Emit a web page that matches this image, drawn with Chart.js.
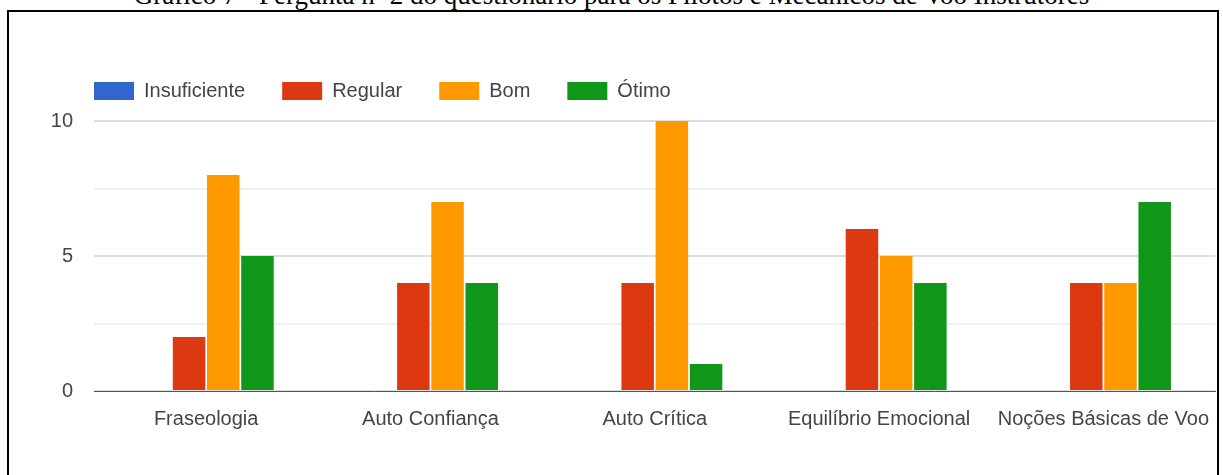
<!DOCTYPE html>
<html>
<head>
<meta charset="utf-8">
<script src="https://cdn.jsdelivr.net/npm/chart.js@4.4.0/dist/chart.umd.min.js"></script>
<style>
  body { margin: 0; background: #fff; overflow: hidden; }
  #title {
    position: absolute; left: 0; top: -20px; width: 1223px; white-space: nowrap;
    text-align: center; font: 27px "Liberation Serif", "Times New Roman", serif; color: #000;
  }
  #box {
    position: absolute; left: 7px; top: 10px; width: 1208px; height: 470px;
    border: 2px solid #000;
  }
  #wrap { position: absolute; left: 0; top: 0; width: 1208px; height: 465px; }
</style>
</head>
<body>
<div id="title">Gráfico 7 - Pergunta nº 2 do questionário para os Pilotos e Mecânicos de Voo Instrutores</div>
<div id="box"><div id="wrap"><canvas id="myChart"></canvas></div></div>
<script>
// Data
const categories = ['Fraseologia', 'Auto Confiança', 'Auto Crítica', 'Equilíbrio Emocional', 'Noções Básicas de Voo']
const insuficiente = [0, 0, 0, 0, 0]
const regular = [2, 4, 4, 6, 4]
const bom = [8, 7, 10, 5, 4]
const otimo = [5, 4, 1, 4, 7]
const yTicks = [0, 5, 10]

Chart.defaults.font.family = '"Liberation Sans", Arial, sans-serif'
Chart.defaults.color = '#444'

// extra space under the legend, and legend moved right to line up with the plot
const legendMargin = {
  id: 'legendMargin',
  beforeInit (chart) {
    const fit = chart.legend.fit
    chart.legend.fit = function () {
      fit.bind(chart.legend)()
      this.height += 10
    }
  },
  afterLayout (chart) {
    chart.legend.left += 48
  }
}

const ctx = document.getElementById('myChart')
// eslint-disable-next-line no-unused-vars
const myChart = new Chart(ctx, {
  type: 'bar',
  data: {
    labels: categories,
    datasets: [
      { label: 'Insuficiente', data: insuficiente, backgroundColor: '#3366cc' },
      { label: 'Regular', data: regular, backgroundColor: '#dc3912' },
      { label: 'Bom', data: bom, backgroundColor: '#ff9900' },
      { label: 'Ótimo', data: otimo, backgroundColor: '#109618' }
    ]
  },
  plugins: [legendMargin],
  options: {
    responsive: true,
    maintainAspectRatio: false,
    animation: false,
    datasets: {
      bar: { categoryPercentage: 0.61, barPercentage: 0.95 }
    },
    layout: { padding: { top: 32, left: 0, right: 0, bottom: 38 } },
    plugins: {
      legend: {
        align: 'start',
        labels: {
          boxWidth: 40,
          boxHeight: 18,
          padding: 37,
          color: '#444',
          font: { size: 20 }
        }
      },
      tooltip: { enabled: false }
    },
    scales: {
      x: {
        grid: { display: false },
        border: { color: '#555', width: 1 },
        ticks: { font: { size: 20 }, color: '#444', padding: 8, maxRotation: 0, autoSkip: false }
      },
      y: {
        min: 0,
        max: 10,
        afterFit: (scale) => { scale.width = 85 },
        afterBuildTicks: (scale) => {
          scale.ticks = [0, 2.5, 5, 7.5, 10].map(v => ({ value: v }))
        },
        border: { display: false },
        grid: {
          color: (c) => (c.tick && yTicks.includes(c.tick.value) ? '#ddd' : '#efefef'),
          lineWidth: 2,
          drawTicks: false
        },
        ticks: {
          font: { size: 20 },
          color: '#444',
          padding: 21,
          callback: (v) => (yTicks.includes(v) ? v : '')
        }
      }
    }
  }
})
</script>
</body>
</html>
